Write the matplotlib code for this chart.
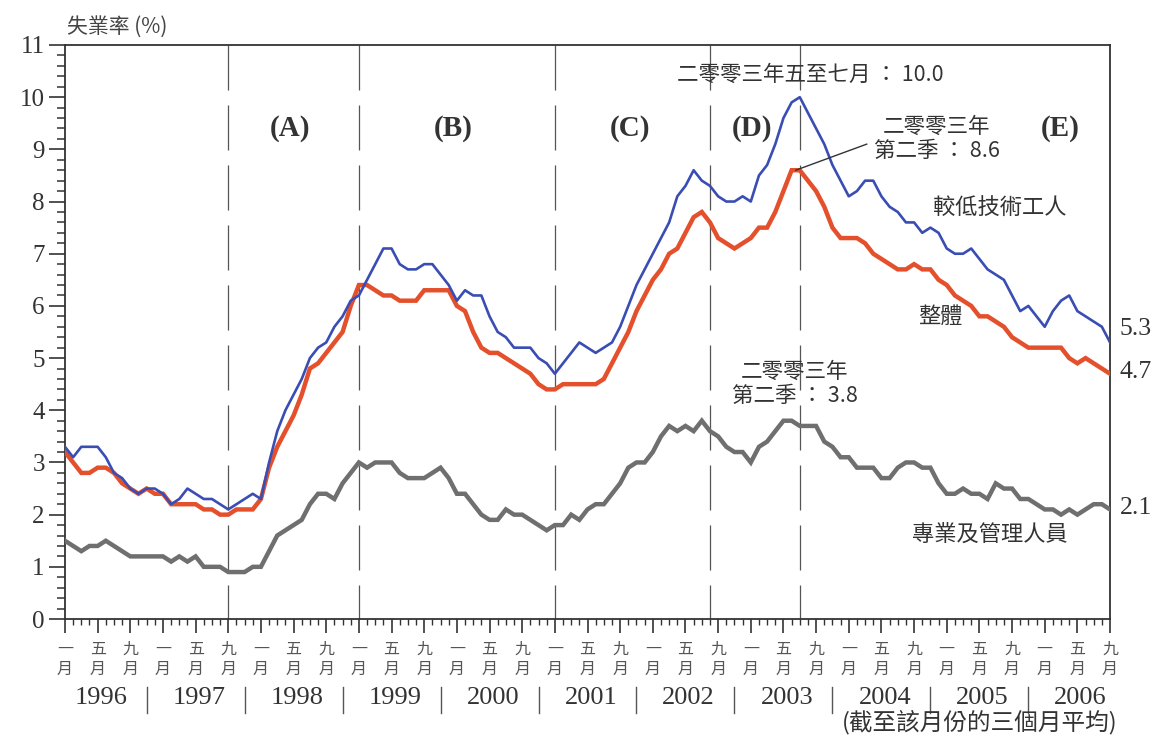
#!/usr/bin/env python3

import matplotlib

matplotlib.use("Agg")
import matplotlib.pyplot as plt


# Unemployment rate (%), three-month moving average, Jan 1996 - Sep 2006
LOWER_SKILLED = [
    3.3, 3.1, 3.3, 3.3, 3.3, 3.1, 2.8, 2.7, 2.5, 2.4, 2.5, 2.5,
    2.4, 2.2, 2.3, 2.5, 2.4, 2.3, 2.3, 2.2, 2.1, 2.2, 2.3, 2.4,
    2.3, 3.0, 3.6, 4.0, 4.3, 4.6, 5.0, 5.2, 5.3, 5.6, 5.8, 6.1,
    6.2, 6.5, 6.8, 7.1, 7.1, 6.8, 6.7, 6.7, 6.8, 6.8, 6.6, 6.4,
    6.1, 6.3, 6.2, 6.2, 5.8, 5.5, 5.4, 5.2, 5.2, 5.2, 5.0, 4.9,
    4.7, 4.9, 5.1, 5.3, 5.2, 5.1, 5.2, 5.3, 5.6, 6.0, 6.4, 6.7,
    7.0, 7.3, 7.6, 8.1, 8.3, 8.6, 8.4, 8.3, 8.1, 8.0, 8.0, 8.1,
    8.0, 8.5, 8.7, 9.1, 9.6, 9.9, 10.0, 9.7, 9.4, 9.1, 8.7, 8.4,
    8.1, 8.2, 8.4, 8.4, 8.1, 7.9, 7.8, 7.6, 7.6, 7.4, 7.5, 7.4,
    7.1, 7.0, 7.0, 7.1, 6.9, 6.7, 6.6, 6.5, 6.2, 5.9, 6.0, 5.8,
    5.6, 5.9, 6.1, 6.2, 5.9, 5.8, 5.7, 5.6, 5.3,
]
OVERALL = [
    3.2, 3.0, 2.8, 2.8, 2.9, 2.9, 2.8, 2.6, 2.5, 2.4, 2.5, 2.4,
    2.4, 2.2, 2.2, 2.2, 2.2, 2.1, 2.1, 2.0, 2.0, 2.1, 2.1, 2.1,
    2.3, 2.9, 3.3, 3.6, 3.9, 4.3, 4.8, 4.9, 5.1, 5.3, 5.5, 6.0,
    6.4, 6.4, 6.3, 6.2, 6.2, 6.1, 6.1, 6.1, 6.3, 6.3, 6.3, 6.3,
    6.0, 5.9, 5.5, 5.2, 5.1, 5.1, 5.0, 4.9, 4.8, 4.7, 4.5, 4.4,
    4.4, 4.5, 4.5, 4.5, 4.5, 4.5, 4.6, 4.9, 5.2, 5.5, 5.9, 6.2,
    6.5, 6.7, 7.0, 7.1, 7.4, 7.7, 7.8, 7.6, 7.3, 7.2, 7.1, 7.2,
    7.3, 7.5, 7.5, 7.8, 8.2, 8.6, 8.6, 8.4, 8.2, 7.9, 7.5, 7.3,
    7.3, 7.3, 7.2, 7.0, 6.9, 6.8, 6.7, 6.7, 6.8, 6.7, 6.7, 6.5,
    6.4, 6.2, 6.1, 6.0, 5.8, 5.8, 5.7, 5.6, 5.4, 5.3, 5.2, 5.2,
    5.2, 5.2, 5.2, 5.0, 4.9, 5.0, 4.9, 4.8, 4.7,
]
PROFESSIONAL = [
    1.5, 1.4, 1.3, 1.4, 1.4, 1.5, 1.4, 1.3, 1.2, 1.2, 1.2, 1.2,
    1.2, 1.1, 1.2, 1.1, 1.2, 1.0, 1.0, 1.0, 0.9, 0.9, 0.9, 1.0,
    1.0, 1.3, 1.6, 1.7, 1.8, 1.9, 2.2, 2.4, 2.4, 2.3, 2.6, 2.8,
    3.0, 2.9, 3.0, 3.0, 3.0, 2.8, 2.7, 2.7, 2.7, 2.8, 2.9, 2.7,
    2.4, 2.4, 2.2, 2.0, 1.9, 1.9, 2.1, 2.0, 2.0, 1.9, 1.8, 1.7,
    1.8, 1.8, 2.0, 1.9, 2.1, 2.2, 2.2, 2.4, 2.6, 2.9, 3.0, 3.0,
    3.2, 3.5, 3.7, 3.6, 3.7, 3.6, 3.8, 3.6, 3.5, 3.3, 3.2, 3.2,
    3.0, 3.3, 3.4, 3.6, 3.8, 3.8, 3.7, 3.7, 3.7, 3.4, 3.3, 3.1,
    3.1, 2.9, 2.9, 2.9, 2.7, 2.7, 2.9, 3.0, 3.0, 2.9, 2.9, 2.6,
    2.4, 2.4, 2.5, 2.4, 2.4, 2.3, 2.6, 2.5, 2.5, 2.3, 2.3, 2.2,
    2.1, 2.1, 2.0, 2.1, 2.0, 2.1, 2.2, 2.2, 2.1,
]

YEARS = ["1996", "1997", "1998", "1999", "2000", "2001",
         "2002", "2003", "2004", "2005", "2006"]
MONTH_NAMES = ["一\n月", "五\n月", "九\n月"]
# month index (0 = Jan 1996) of the dashed period dividers
PERIOD_BREAKS = [20, 36, 60, 79, 90]
PERIOD_NAMES = ["(A)", "(B)", "(C)", "(D)", "(E)"]

BLUE = "#3a4db3"
RED = "#e4502c"
GRAY = "#6f6f6f"
TEXT = "#333333"
SERIF = ["Liberation Serif", "DejaVu Serif"]
CJK = ["Noto Sans CJK TC", "DejaVu Sans"]


def main() -> None:
    months = list(range(len(OVERALL)))

    fig = plt.figure(figsize=(11.54, 7.35), dpi=100, facecolor="white")
    ax = fig.add_axes((0.0563, 0.1578, 0.9056, 0.7810))

    ax.plot(months, PROFESSIONAL, color=GRAY, lw=3.2, solid_joinstyle="miter", zorder=3)
    ax.plot(months, OVERALL, color=RED, lw=3.2, solid_joinstyle="miter", zorder=4)
    ax.plot(months, LOWER_SKILLED, color=BLUE, lw=1.9, zorder=5)

    for m in PERIOD_BREAKS:
        ax.plot([m, m], [11, 0], color="#555555", lw=0.9, dashes=(36, 12), zorder=2)

    ax.set_xlim(0, len(OVERALL) - 1)
    ax.set_ylim(0, 11)

    # y axis
    ax.set_yticks(range(0, 12))
    ax.set_yticks([v / 5 for v in range(0, 56)], minor=True)
    ax.tick_params(axis="y", which="major", direction="out", length=11.5, width=1.2,
                   pad=3, colors=TEXT, labelsize=18)
    ax.tick_params(axis="y", which="minor", direction="out", length=5.5, width=1.1,
                   colors=TEXT)
    for lab in ax.get_yticklabels():
        lab.set_fontfamily(SERIF)

    # x axis: Jan / May / Sep labels, monthly minor ticks
    major = list(range(0, len(OVERALL), 4))
    ax.set_xticks(major, [MONTH_NAMES[i % 3] for i in range(len(major))])
    ax.set_xticks(months, minor=True)
    ax.tick_params(axis="x", which="major", direction="out", length=10, width=1.2,
                   pad=6, colors=TEXT, labelcolor="#555555", labelsize=11.5)
    ax.tick_params(axis="x", which="minor", direction="out", length=4.5, width=1.0,
                   colors=TEXT)
    for lab in ax.get_xticklabels():
        lab.set_fontfamily(CJK)
        lab.set_linespacing(1.2)

    for side in ("left", "right", "top", "bottom"):
        ax.spines[side].set_linewidth(1.3)
        ax.spines[side].set_color(TEXT)

    # year labels with separators underneath the month labels
    xt = ax.get_xaxis_transform()
    for k, year in enumerate(YEARS):
        ax.text(4.4 + 12 * k, -0.138, year, transform=xt, ha="center", va="center",
                fontsize=19, family=SERIF, color=TEXT)
        if k < len(YEARS) - 1:
            sep = 10 + 12 * k
            ax.plot([sep, sep], [-0.118, -0.163], transform=xt, color="#555555",
                    lw=1.0, clip_on=False)

    # period labels
    for x, name in zip([27.6, 47.5, 69.2, 84.1, 121.9], PERIOD_NAMES):
        ax.text(x, 9.4, name, ha="center", va="center", fontsize=21,
                fontweight="bold", family=SERIF, color=TEXT)

    # annotations
    ax.text(91.3, 10.42, "二零零三年五至七月 ： 10.0", ha="center", va="center",
            fontsize=15.5, family=CJK, color=TEXT)
    ax.text(106.8, 9.2, "二零零三年\n第二季 ： 8.6", ha="center", va="center",
            fontsize=15.5, family=CJK, color=TEXT, linespacing=1.1)
    ax.plot([89.5, 98.2], [8.6, 9.1], color=TEXT, lw=1.0, zorder=6)
    ax.text(89.4, 4.5, "二零零三年\n第二季 ： 3.8", ha="center", va="center",
            fontsize=15.5, family=CJK, color=TEXT, linespacing=1.1)

    ax.text(114.5, 7.87, "較低技術工人", ha="center", va="center", fontsize=16,
            family=CJK, color=TEXT)
    ax.text(107.2, 5.8, "整體", ha="center", va="center", fontsize=16,
            family=CJK, color=TEXT)
    ax.text(113.3, 1.6, "專業及管理人員", ha="center", va="center", fontsize=16,
            family=CJK, color=TEXT)

    last = len(OVERALL) - 1
    for series, dy in ((LOWER_SKILLED, 10), (OVERALL, 1), (PROFESSIONAL, 1)):
        ax.annotate(f"{series[-1]:.1f}", (last, series[-1]), xytext=(7, dy),
                    textcoords="offset points", ha="left", va="center",
                    fontsize=18.5, family=SERIF, color=TEXT, annotation_clip=False)

    fig.text(0.058, 0.963, "失業率 (%)", ha="left", va="center", fontsize=15,
             family=CJK, color="#444444")
    fig.text(0.968, 0.018, "(截至該月份的三個月平均)", ha="right", va="center",
             fontsize=17, family=CJK, color=TEXT)

    fig.savefig("out.png", dpi=100, facecolor=fig.get_facecolor())
    plt.close(fig)


if __name__ == "__main__":
    main()
